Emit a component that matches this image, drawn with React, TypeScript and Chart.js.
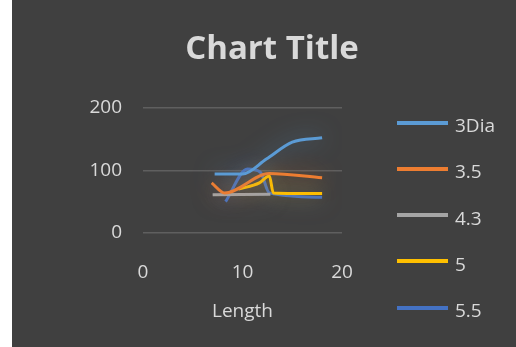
import React, { useEffect, useRef } from "react";
import { Chart, registerables } from "chart.js";

Chart.register(...registerables);

// ---- data ----
const seriesNames = ["3Dia", "3.5", "4.3", "5", "5.5"];
const seriesColors = ["#5B9BD5", "#ED7D31", "#A5A5A5", "#FFC000", "#4472C4"];

const dia3X = [7.2, 10, 12.4, 15, 18];
const dia3Y = [94, 94, 118, 145, 152];
const s35X = [6.9, 8.2, 12.7, 18];
const s35Y = [80, 64, 95, 88];
const s43X = [7, 12.8];
const s43Y = [61, 62];
const s5X = [9.6, 11.7, 12.7, 13.1, 18];
const s5Y = [70, 80, 91, 64, 63];
const s55X = [8.3, 10.5, 11.8, 12.7, 18];
const s55Y = [50, 102, 97, 64, 57];

const seriesX = [dia3X, s35X, s43X, s5X, s55X];
const seriesY = [dia3Y, s35Y, s43Y, s5Y, s55Y];

const xTicks = [0, 10, 20];
const yTicks = [0, 100, 200];

const chartTitle = "Chart Title";
const xTitle = "Length";

const FONT = "'Open Sans', 'Noto Sans', sans-serif";
const TEXT = "#d9d9d9";

function hexA(hex: string, a: number) {
  const r = parseInt(hex.slice(1, 3), 16);
  const g = parseInt(hex.slice(3, 5), 16);
  const b = parseInt(hex.slice(5, 7), 16);
  return `rgba(${r},${g},${b},${a})`;
}

const glowPlugin = {
  id: "glow",
  beforeDatasetDraw(chart: any, args: any) {
    const ctx = chart.ctx;
    const ds = chart.data.datasets[args.index];
    ctx.save();
    ctx.shadowColor = hexA(ds.borderColor, 0.65);
    ctx.shadowBlur = 22;
  },
  afterDatasetDraw(chart: any) {
    chart.ctx.restore();
  },
};

export default function App() {
  const ref = useRef<HTMLCanvasElement | null>(null);

  useEffect(() => {
    if (!ref.current) return;
    const datasets = seriesNames.map((name, i) => ({
      label: name,
      data: seriesX[i].map((x, j) => ({ x, y: seriesY[i][j] })),
      borderColor: seriesColors[i],
      backgroundColor: seriesColors[i],
      borderWidth: 3,
      pointRadius: 0,
      pointHoverRadius: 0,
      fill: false,
      showLine: true,
      cubicInterpolationMode: "monotone" as const,
    }));

    const chart = new Chart(ref.current, {
      type: "line",
      data: { datasets },
      plugins: [glowPlugin],
      options: {
        animation: false,
        responsive: false,
        layout: { padding: { left: 25.5, right: 9.5, top: 0, bottom: 0 } },
        plugins: {
          tooltip: { enabled: false },
          legend: { display: false },
          title: {
            display: true,
            text: chartTitle,
            color: TEXT,
            font: { family: FONT, size: 33, weight: "bold" },
            padding: { top: 30, bottom: 3 },
          },
        },
        scales: {
          x: {
            type: "linear",
            min: 0,
            max: 20,
            afterBuildTicks: (s: any) => {
              s.ticks = xTicks.map((v) => ({ value: v }));
            },
            afterFit: (s: any) => {
              s.height = 114;
            },
            grid: { display: false, drawTicks: false },
            border: { display: false },
            ticks: { color: TEXT, font: { family: FONT, size: 19 }, padding: 28 },
            title: {
              display: true,
              text: xTitle,
              color: TEXT,
              font: { family: FONT, size: 19 },
              padding: { top: 0, bottom: 24 },
            },
          },
          y: {
            type: "linear",
            min: 0,
            max: 256,
            afterBuildTicks: (s: any) => {
              s.ticks = yTicks.map((v) => ({ value: v }));
            },
            afterFit: (s: any) => {
              s.width = 105.5;
            },
            grid: { color: "#5f5f5f", lineWidth: 1.5, drawTicks: false },
            border: { display: false },
            ticks: { color: TEXT, font: { family: FONT, size: 19 }, padding: 21 },
          },
          yPad: {
            type: "linear",
            position: "right",
            display: true,
            grid: { display: false, drawTicks: false },
            border: { display: false },
            ticks: { display: false },
            afterFit: (s: any) => {
              s.width = 164.5;
            },
          },
        },
      } as any,
    });
    return () => chart.destroy();
  }, []);

  return (
    <div
      style={{
        position: "fixed",
        left: 12,
        top: 0,
        width: 504,
        height: 347,
        background: "#404040",
      }}
    >
      <canvas ref={ref} width={504} height={347} style={{ display: "block" }} />
      {seriesNames.map((name, i) => (
        <div
          key={name}
          style={{
            position: "absolute",
            left: 385,
            top: 125 + i * 46.3 - 13,
            height: 26,
            display: "flex",
            alignItems: "center",
          }}
        >
          <div
            style={{
              width: 51,
              height: 4,
              background: seriesColors[i],
              marginRight: 7,
              marginTop: -5,
            }}
          />
          <span
            style={{
              fontFamily: FONT,
              fontSize: 19,
              lineHeight: "26px",
              color: TEXT,
            }}
          >
            {name}
          </span>
        </div>
      ))}
    </div>
  );
}
